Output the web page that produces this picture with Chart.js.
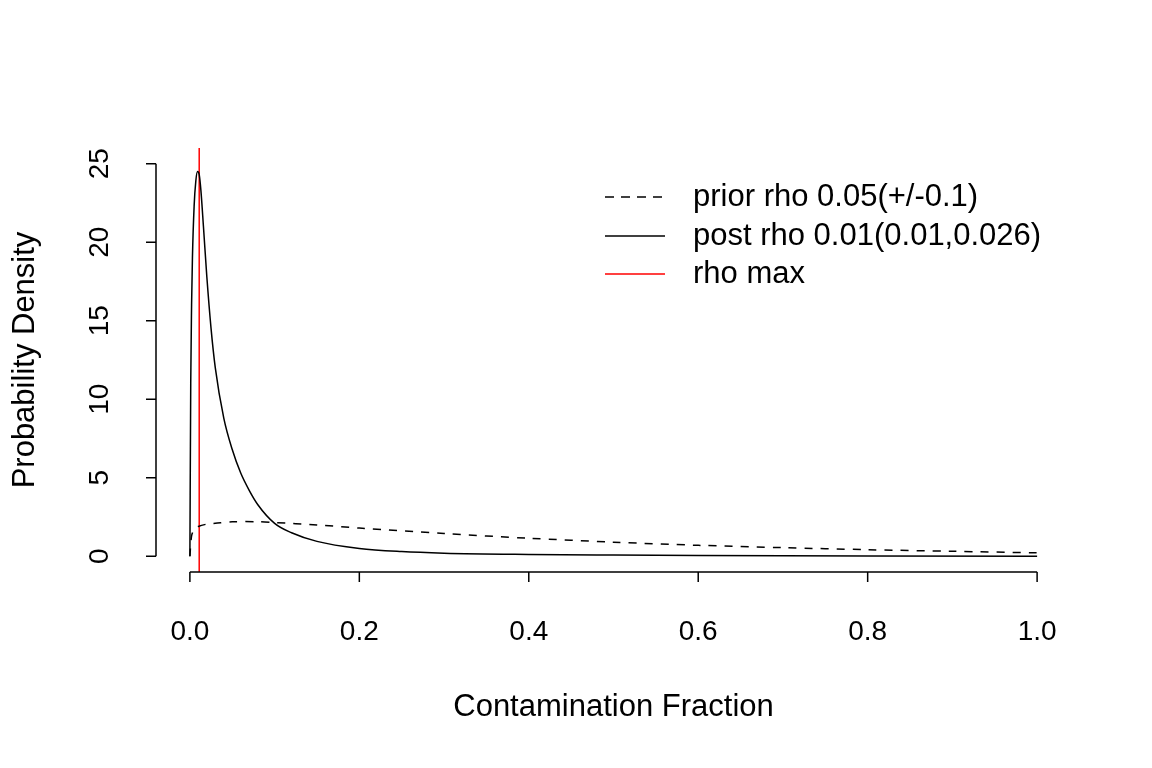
<!DOCTYPE html>
<html>
<head>
<meta charset="utf-8">
<script src="https://cdn.jsdelivr.net/npm/chart.js@4"></script>
<style>
  html, body { margin: 0; padding: 0; background: #fff; }
  #wrap { width: 1152px; height: 768px; }
</style>
</head>
<body>
<div id="wrap"><canvas id="c" width="1152" height="768"></canvas></div>
<script>
// values
const postX = [0, 0.001, 0.002, 0.003, 0.005, 0.007, 0.009, 0.011, 0.013, 0.016, 0.02, 0.025, 0.03, 0.04, 0.05, 0.06, 0.07, 0.08, 0.1, 0.12, 0.15, 0.2, 0.25, 0.3, 0.4, 0.5, 0.6, 0.8, 1.0];
const postY = [0, 11, 16, 19, 22.3, 23.9, 24.5, 24.3, 23.3, 21, 17.8, 14.5, 12, 8.8, 6.8, 5.3, 4.2, 3.3, 2.1, 1.5, 0.95, 0.5, 0.3, 0.2, 0.12, 0.08, 0.05, 0.02, 0.01];
const priorX = [0, 0.002, 0.005, 0.01, 0.02, 0.03, 0.05, 0.08, 0.1, 0.15, 0.2, 0.3, 0.4, 0.5, 0.6, 0.7, 0.8, 0.9, 1.0];
const priorY = [0, 1.3, 1.7, 1.9, 2.05, 2.1, 2.2, 2.2, 2.15, 2.0, 1.8, 1.45, 1.15, 0.9, 0.7, 0.55, 0.42, 0.32, 0.22];
const rhoMax = 0.011;
const xTicks = [0, 0.2, 0.4, 0.6, 0.8, 1.0];
const yTicks = [0, 5, 10, 15, 20, 25];
const legendLabels = ['prior rho 0.05(+/-0.1)', 'post rho 0.01(0.01,0.026)', 'rho max'];

const FONT = '31px "Liberation Sans", Arial, sans-serif';
const TICK_FONT = '28px "Liberation Sans", Arial, sans-serif';

const rAxes = {
  id: 'rAxes',
  afterDraw(chart) {
    const ctx = chart.ctx, xs = chart.scales.x, ys = chart.scales.y, a = chart.chartArea;
    ctx.save();
    ctx.strokeStyle = '#000'; ctx.fillStyle = '#000'; ctx.lineWidth = 1.5;
    // x axis
    const ax = a.bottom;
    ctx.beginPath();
    ctx.moveTo(xs.getPixelForValue(xTicks[0]), ax);
    ctx.lineTo(xs.getPixelForValue(xTicks[xTicks.length - 1]), ax);
    xTicks.forEach(t => { const p = xs.getPixelForValue(t); ctx.moveTo(p, ax); ctx.lineTo(p, ax + 10); });
    ctx.stroke();
    ctx.textAlign = 'center'; ctx.textBaseline = 'middle';
    ctx.font = TICK_FONT;
    xTicks.forEach(t => ctx.fillText(t.toFixed(1), xs.getPixelForValue(t), 632));
    ctx.font = FONT;
    ctx.fillText('Contamination Fraction', (xs.getPixelForValue(0) + xs.getPixelForValue(1)) / 2, 707);
    // y axis
    const ay = a.left;
    ctx.beginPath();
    ctx.moveTo(ay, ys.getPixelForValue(yTicks[0]));
    ctx.lineTo(ay, ys.getPixelForValue(yTicks[yTicks.length - 1]));
    yTicks.forEach(t => { const p = ys.getPixelForValue(t); ctx.moveTo(ay, p); ctx.lineTo(ay - 10, p); });
    ctx.stroke();
    ctx.font = TICK_FONT;
    yTicks.forEach(t => {
      ctx.save(); ctx.translate(100, ys.getPixelForValue(t)); ctx.rotate(-Math.PI / 2);
      ctx.fillText(String(t), 0, 0); ctx.restore();
    });
    ctx.font = FONT;
    ctx.save(); ctx.translate(25, (ys.getPixelForValue(0) + ys.getPixelForValue(25)) / 2); ctx.rotate(-Math.PI / 2);
    ctx.fillText('Probability Density', 0, 0); ctx.restore();
    // legend
    const rows = [197, 236, 274];
    const styles = [{ c: '#000', d: [9, 7] }, { c: '#000', d: [] }, { c: '#ff0000', d: [] }];
    ctx.textAlign = 'left';
    rows.forEach((y, i) => {
      ctx.strokeStyle = styles[i].c; ctx.setLineDash(styles[i].d);
      ctx.beginPath(); ctx.moveTo(605, y); ctx.lineTo(665, y); ctx.stroke();
      ctx.setLineDash([]);
      ctx.fillStyle = '#000';
      ctx.fillText(legendLabels[i], 693, y);
    });
    ctx.restore();
  }
};

new Chart(document.getElementById('c'), {
  type: 'scatter',
  data: {
    datasets: [
      { data: priorX.map((x, i) => ({ x, y: priorY[i] })), showLine: true, borderColor: '#000', borderWidth: 1.5, borderDash: [8, 8], pointRadius: 0, tension: 0.3 },
      { data: postX.map((x, i) => ({ x, y: postY[i] })), showLine: true, borderColor: '#000', borderWidth: 1.5, pointRadius: 0, tension: 0.3, cubicInterpolationMode: 'monotone' },
      { data: [{ x: rhoMax, y: -1 }, { x: rhoMax, y: 26 }], showLine: true, borderColor: '#ff0000', borderWidth: 1.5, pointRadius: 0 }
    ]
  },
  options: {
    responsive: false, animation: false,
    layout: { padding: { left: 156, right: 81, top: 148, bottom: 196 } },
    plugins: { legend: { display: false }, tooltip: { enabled: false } },
    scales: {
      x: { type: 'linear', min: -0.04, max: 1.04, display: false },
      y: { type: 'linear', min: -1, max: 26, display: false }
    }
  },
  plugins: [rAxes]
});
</script>
</body>
</html>
